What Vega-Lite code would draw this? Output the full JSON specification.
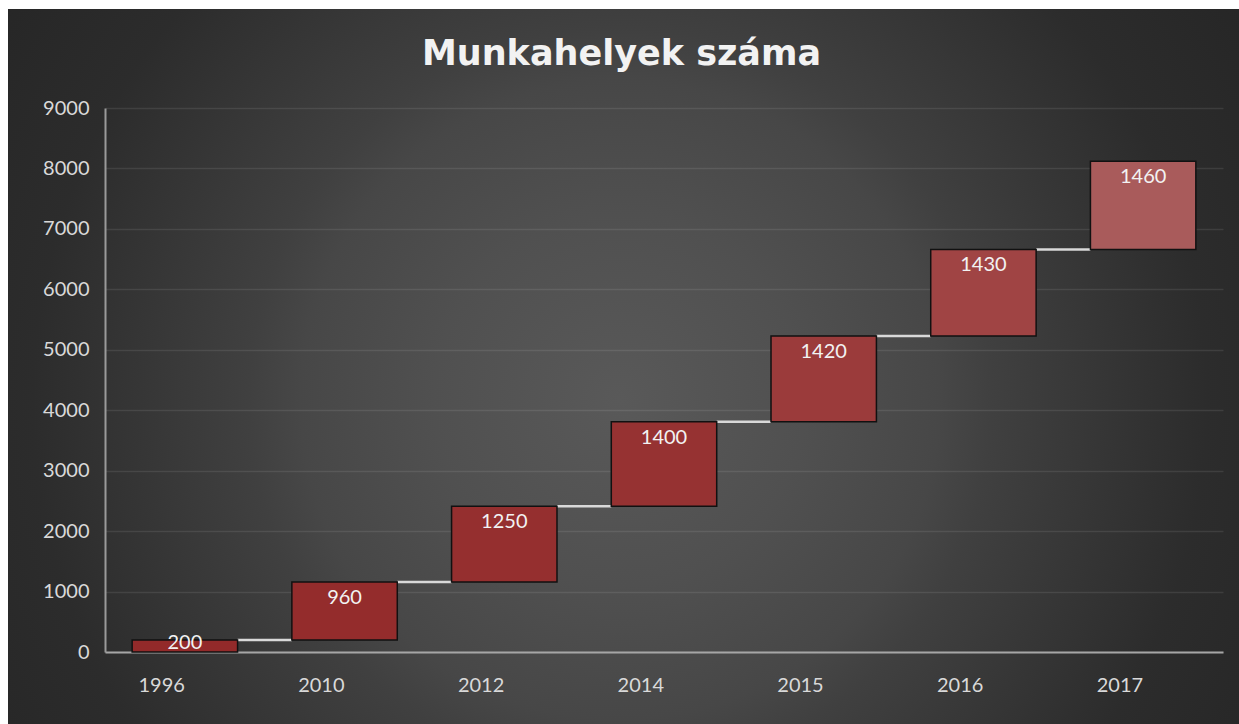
{
  "$schema": "https://vega.github.io/schema/vega-lite/v6.json",
  "width": 1239,
  "height": 715,
  "autosize": "none",
  "padding": {"left": 8, "top": 9, "right": 0, "bottom": 0},
  "background": "#ffffff",
  "title": {
    "text": "Munkahelyek száma",
    "font": "DejaVu Sans",
    "fontSize": 35,
    "fontWeight": "bold",
    "color": "#f2f2f2",
    "anchor": "middle",
    "baseline": "alphabetic",
    "dx": -6,
    "offset": -91
  },
  "data": {
    "values": [
      {"cat": "1996", "start": 0, "end": 200, "delta": 200, "next": "2010"},
      {"cat": "2010", "start": 200, "end": 1160, "delta": 960, "next": "2012"},
      {"cat": "2012", "start": 1160, "end": 2410, "delta": 1250, "next": "2014"},
      {"cat": "2014", "start": 2410, "end": 3810, "delta": 1400, "next": "2015"},
      {"cat": "2015", "start": 3810, "end": 5230, "delta": 1420, "next": "2016"},
      {"cat": "2016", "start": 5230, "end": 6660, "delta": 1430, "next": "2017"},
      {"cat": "2017", "start": 6660, "end": 8120, "delta": 1460, "next": null}
    ]
  },
  "layer": [
    {
      "transform": [{"filter": "datum.next != null"}],
      "mark": {"type": "rule", "color": "#d9d9d9", "strokeWidth": 2.5},
      "encoding": {
        "x": {"field": "cat", "type": "ordinal", "bandPosition": 1},
        "x2": {"field": "next", "bandPosition": 0},
        "y": {"field": "end", "type": "quantitative"}
      }
    },
    {
      "mark": {"type": "bar", "stroke": "#111111", "strokeWidth": 1.5},
      "encoding": {
        "x": {
          "field": "cat", "type": "ordinal",
          "scale": {"range": [97, 1215], "paddingInner": 0.34, "paddingOuter": 0.17},
          "axis": {
            "title": null, "labelAngle": 0, "ticks": false, "offset": -72,
            "domainColor": "#a6a6a6", "domainWidth": 2,
            "labelColor": "#d9d9d9", "labelFont": "Lato", "labelFontSize": 20,
            "labelPadding": 33, "grid": false
          }
        },
        "y": {
          "field": "start", "type": "quantitative",
          "scale": {"domain": [0, 9000], "nice": false, "range": [643, 99]},
          "axis": {
            "title": null, "ticks": false, "offset": -97,
            "values": [0, 1000, 2000, 3000, 4000, 5000, 6000, 7000, 8000, 9000],
            "domainColor": "#9a9a9a", "domainWidth": 2,
            "labelColor": "#d9d9d9", "labelFont": "Lato", "labelFontSize": 20,
            "labelPadding": 16, "format": "d",
            "grid": true, "gridColor": "#ffffff", "gridOpacity": 0.09, "gridWidth": 1.5
          }
        },
        "y2": {"field": "end"},
        "color": {
          "field": "end", "type": "quantitative", "legend": null,
          "scale": {
            "domain": [200, 3810, 6660, 8120],
            "range": ["#932a2a", "#963232", "#a04444", "#a95b5b"]
          }
        }
      }
    },
    {
      "transform": [{"filter": "datum.delta >= 500"}],
      "mark": {"type": "text", "baseline": "top", "dy": 6, "font": "Lato", "fontSize": 20, "color": "#f2f2f2"},
      "encoding": {
        "x": {"field": "cat", "type": "ordinal"},
        "y": {"field": "end", "type": "quantitative"},
        "text": {"field": "delta", "type": "quantitative"}
      }
    },
    {
      "transform": [{"filter": "datum.delta < 500"}],
      "mark": {"type": "text", "baseline": "middle", "dy": 3, "font": "Lato", "fontSize": 20, "color": "#f2f2f2"},
      "encoding": {
        "x": {"field": "cat", "type": "ordinal"},
        "y": {"field": "end", "type": "quantitative"},
        "text": {"field": "delta", "type": "quantitative"}
      }
    }
  ],
  "config": {
    "view": {
      "stroke": null,
      "fill": {
        "gradient": "radial",
        "x1": 0.494, "y1": 0.527, "r1": 0,
        "x2": 0.494, "y2": 0.527, "r2": 0.6,
        "stops": [
          {"offset": 0, "color": "#595959"},
          {"offset": 0.25, "color": "#505050"},
          {"offset": 0.43, "color": "#474747"},
          {"offset": 0.5, "color": "#404040"},
          {"offset": 0.79, "color": "#2c2c2c"},
          {"offset": 1, "color": "#262626"}
        ]
      }
    }
  }
}
